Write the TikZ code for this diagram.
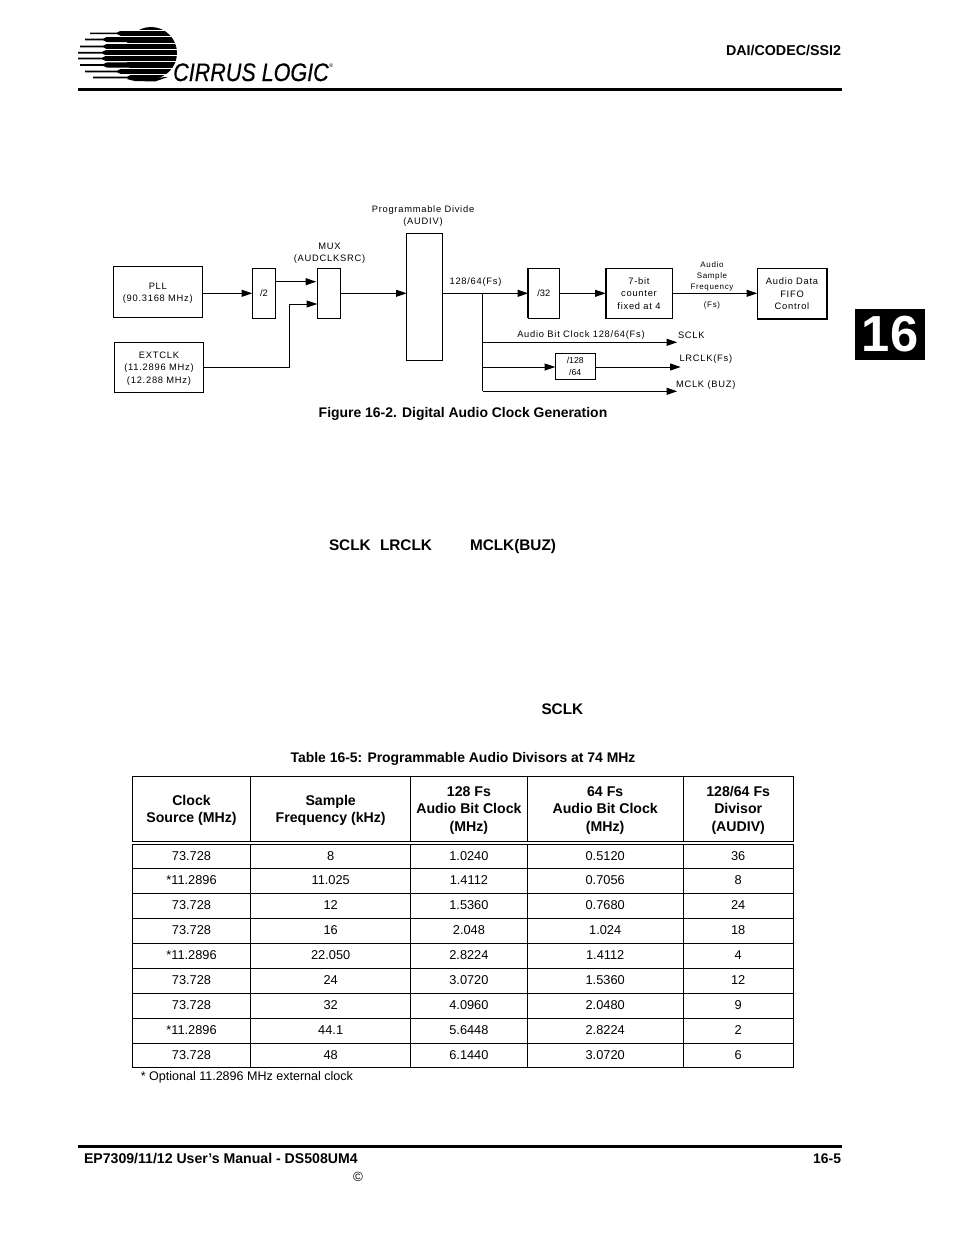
\documentclass[tikz,border=0pt]{standalone}
\usepackage{fontspec}
\setmainfont{Liberation Sans}
\newfontfamily\diagf[LetterSpace=8]{Liberation Sans}
\newfontfamily\logof[FakeBold=0.5]{Liberation Sans Italic}
\newcommand\hstrut{\rule{0pt}{9.5pt}}
\usetikzlibrary{arrows.meta,calc}
\tikzset{
  sz/.style 2 args={minimum width=#1*0.75pt,minimum height=#2*0.75pt},
  box/.style={draw=black,line width=0.8pt,inner sep=0pt,outer sep=0pt,align=center,font=\diagf\fontsize{7}{9.4}\selectfont},
  lbl/.style={inner sep=0pt,outer sep=0pt,align=center,font=\diagf\fontsize{7}{9}\selectfont},
  llbl/.style={lbl,anchor=west},
  bold/.style={inner sep=0pt,outer sep=0pt,font=\bfseries\fontsize{10.45}{12.5}\selectfont,align=center},
  bodyb/.style={inner sep=0pt,outer sep=0pt,anchor=base west,font=\bfseries\fontsize{11.5}{13}\selectfont},
  arr/.style={line width=0.75pt,-{Triangle[length=8pt,width=5.2pt]}},
  wire/.style={line width=0.75pt},
  cell/.style={draw=black,line width=0.75pt,inner sep=0pt,outer sep=0pt,align=center,text depth=0.6pt,font=\fontsize{9.6}{12}\selectfont},
  headcell/.style={draw=black,line width=0.75pt,inner sep=0pt,outer sep=0pt,align=center,font=\bfseries\fontsize{10.6}{13}\selectfont},
  rulebar/.style={fill=black,draw=none},
}
\begin{document}
\begin{tikzpicture}[x=0.75pt,y=-0.75pt]
\useasboundingbox (0,0) rectangle (954,1235);
\fill[white] (0,0) rectangle (954,1235);
% page rules
\fill[rulebar] (78,88) rectangle (842,91);
\fill[rulebar] (78,1144.5) rectangle (842,1147.5);
% logo
\begin{scope}
  \clip (70,26) rectangle (182,84);
  \fill (151,53) circle[radius=26];
  \foreach \yc/\xl/\xm in {33.3/90/117,39.5/85/103,46.5/80/103,52.7/78/102,58.5/78/102,65/80/103,71.5/85/117,77.5/93/127}{
    \fill (\xl,\yc-0.8) -- (\xm,\yc-0.8) -- (\xm+4,\yc-2.6) -- (150,\yc-2.6) -- (150,\yc+2.6) -- (\xm+4,\yc+2.6) -- (\xm,\yc+0.8) -- (\xl,\yc+0.8) -- cycle;
  }
  \fill (127,79) -- (168,77) -- (155,81.5) -- (135,81) -- cycle;
  \foreach \yw in {30.3,36.3,43,49.7,55.6,61.8,68.3,74.6}{
    \draw[white,line width=0.75pt] (70,\yw) -- (182,\yw);
  }
\end{scope}
\node[anchor=base west,inner sep=0pt,xscale=0.85,font=\logof\fontsize{19}{19}\selectfont] (logotext) at (173,81) {CIRRUS LOGIC};
\node[anchor=west,inner sep=0pt,font=\fontsize{4}{4}\selectfont] (logoreg) at (329,66) {®};
% header / footer texts
\node[bold,anchor=east,font=\bfseries\fontsize{10.7}{12.5}\selectfont] (hdr) at (841,50) {DAI/CODEC/SSI2};
\node[bold,anchor=west,font=\bfseries\fontsize{10.58}{12.5}\selectfont] (ftl) at (84,1158.5) {EP7309/11/12 User’s Manual - DS508UM4};
\node[bold,anchor=east] (ftr) at (841,1158.5) {16-5};
\node[inner sep=0pt,font=\fontsize{10}{10}\selectfont] (copy) at (358,1177) {©};
% chapter tab
\node[rulebar,inner sep=0pt,sz={70}{51},text=white,font=\bfseries\fontsize{38}{38}\selectfont] (tab) at (890,334.5) {16};
% diagram
\node[box,sz={89}{51}] (pll) at (157.8,291.8) {\rule{0pt}{6.8pt}PLL\\(90.3168 MHz)};
\node[box,sz={23.4}{50},font=\fontsize{7}{9}\selectfont] (d2) at (264,293.3) {/2};
\node[box,sz={23.4}{50}] (mux) at (329,293.3) {};
\node[box,sz={36}{126.7}] (audiv) at (424.7,296.7) {};
\node[box,sz={88.6}{50.3}] (ext) at (159,367.2) {\rule{0pt}{6.8pt}EXTCLK\\(11.2896 MHz)\\(12.288 MHz)};
\node[box,sz={31}{50},font=\fontsize{7}{9}\selectfont] (d32) at (543.8,293.3) {/32};
\node[box,sz={66.6}{50}] (cnt) at (639,293.3) {7-bit\\counter\\fixed at 4};
\node[box,sz={69.4}{51}] (fifo) at (792,293.8) {Audio Data\\FIFO\\Control};
\draw[line width=1.4pt] (d32.north west) -- (d32.south west);
\draw[line width=1.4pt] (cnt.north west) -- (cnt.south west);
\draw[line width=1.4pt] (fifo.east |- fifo.north) -- (fifo.south east) -- (fifo.south west);
\node[box,sz={39.7}{25.6},font=\fontsize{6.5}{8.6}\selectfont] (d128) at (575.2,366.5) {/128\\/64};
\node[lbl] (lpd) at (423,216) {Programmable Divide\\(AUDIV)};
\node[lbl] (lmux) at (329.5,253) {MUX\\(AUDCLKSRC)};
\node[lbl] (lfs) at (475.5,282) {128/64(Fs)};
\node[lbl,font=\diagf\fontsize{6}{8.25}\selectfont] (las) at (712,276) {Audio\\Sample\\Frequency};
\node[lbl,font=\diagf\fontsize{6}{8}\selectfont] (lfs2) at (712,305) {(Fs)};
\node[lbl] (labc) at (581,335) {Audio Bit Clock 128/64(Fs)};
\node[llbl] (lsclk) at (678,335) {SCLK};
\node[llbl] (llr) at (679.5,359.5) {LRCLK(Fs)};
\node[llbl] (lmc) at (676,385.5) {MCLK (BUZ)};
% connector helper coordinates
\coordinate (yA) at (0,293.3);
\coordinate (yB) at (0,281.7);
\coordinate (yC) at (0,304);
\coordinate (xV) at (289.3,0);
\coordinate (xB) at (482.7,0);
\coordinate (tS) at (677.3,342.3);
\coordinate (tL) at (680.7,367);
\coordinate (tM) at (677.3,391.3);
\draw[arr] (pll.east |- yA) -- (d2.west |- yA);
\draw[arr] (d2.east |- yB) -- ($(mux.west |- yB)+(-1,0)$);
\draw[arr] (ext.east) -- (xV |- ext.east) -- (xV |- yC) -- (mux.west |- yC);
\draw[arr] (mux.east) -- (audiv.west |- mux.east);
\draw[arr] (audiv.east |- yA) -- (d32.west);
\draw[arr] (d32.east) -- (cnt.west);
\draw[arr] (cnt.east) -- (fifo.west |- cnt.east);
\draw[wire] (xB |- yA) -- (xB |- tM);
\draw[arr] (xB |- tS) -- (tS);
\draw[arr] (xB |- tL) -- (d128.west |- tL);
\draw[arr] (d128.east |- tL) -- (tL);
\draw[arr] (xB |- tM) -- (tM);
\node[bold] (figcap) at (463,414) {Figure 16-2. Digital Audio Clock Generation};
% body fragments
\node[bodyb] (b1) at (329,550) {SCLK};
\node[bodyb] (b2) at (380,550) {LRCLK};
\node[bodyb] (b3) at (470,550) {MCLK(BUZ)};
\node[bodyb] (b4) at (541.5,714) {SCLK};
\node[bold] (tabcap) at (463,759) {Table 16-5: Programmable Audio Divisors at 74 MHz};
% table header
\node[headcell,sz={118.4}{64.6}] (h1) at (191.5,809) {\hstrut Clock\\Source (MHz)};
\node[headcell,sz={160}{64.6}] (h2) at (330.7,809) {\hstrut Sample\\Frequency (kHz)};
\node[headcell,sz={116.5}{64.6}] (h3) at (468.9,809) {\hstrut 128 Fs\\Audio Bit Clock\\(MHz)};
\node[headcell,sz={156}{64.6}] (h4) at (605.2,809) {\hstrut 64 Fs\\Audio Bit Clock\\(MHz)};
\node[headcell,sz={110}{64.6}] (h5) at (738.2,809) {\hstrut 128/64 Fs\\Divisor\\(AUDIV)};
% table body
\foreach \r/\yc/\hh/\a/\b/\c/\d/\e in {
 1/856.35/23.3/73.728/8/1.0240/0.5120/36,
 2/880.5/25/*11.2896/11.025/1.4112/0.7056/8,
 3/905.5/25/73.728/12/1.5360/0.7680/24,
 4/930.5/25/73.728/16/2.048/1.024/18,
 5/955.5/25/*11.2896/22.050/2.8224/1.4112/4,
 6/980.5/25/73.728/24/3.0720/1.5360/12,
 7/1005.5/25/73.728/32/4.0960/2.0480/9,
 8/1030.5/25/*11.2896/44.1/5.6448/2.8224/2,
 9/1055.25/24.5/73.728/48/6.1440/3.0720/6}{
  \node[cell,sz={118.4}{\hh}] (r\r a) at (191.5,\yc) {\a};
  \node[cell,sz={160}{\hh}] (r\r b) at (330.7,\yc) {\b};
  \node[cell,sz={116.5}{\hh}] (r\r c) at (468.9,\yc) {\c};
  \node[cell,sz={156}{\hh}] (r\r d) at (605.2,\yc) {\d};
  \node[cell,sz={110}{\hh}] (r\r e) at (738.2,\yc) {\e};
}
\node[inner sep=0pt,anchor=base west,font=\fontsize{9.4}{12}\selectfont] (note) at (140.5,1080.5) {* Optional 11.2896 MHz external clock};
\end{tikzpicture}
\end{document}
